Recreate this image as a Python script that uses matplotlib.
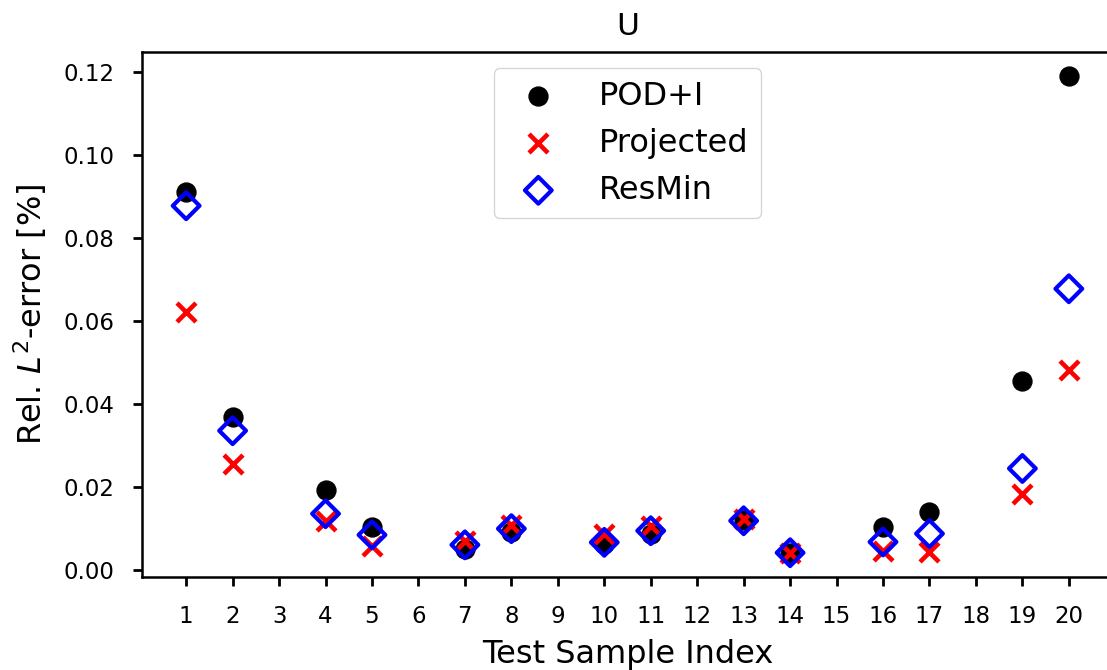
import numpy as np
import matplotlib
matplotlib.use("Agg")
import matplotlib.pyplot as plt

# test sample indices that have data (3, 6, 9, 12, 15, 18 are training samples)
samples = [1, 2, 4, 5, 7, 8, 10, 11, 13, 14, 16, 17, 19, 20]
all_ticks = list(range(1, 21))

pod_i = [0.0911, 0.0369, 0.0193, 0.0104, 0.0050, 0.0090, 0.0062, 0.0087,
         0.0120, 0.0040, 0.0104, 0.0138, 0.0455, 0.1190]
projected = [0.0622, 0.0255, 0.0118, 0.0058, 0.0070, 0.0108, 0.0087, 0.0106,
             0.0122, 0.0040, 0.0046, 0.0042, 0.0183, 0.0482]
resmin = [0.0877, 0.0335, 0.0135, 0.0084, 0.0060, 0.0099, 0.0066, 0.0094,
          0.0118, 0.0041, 0.0067, 0.0087, 0.0244, 0.0677]


def main():
    fig = plt.figure(figsize=(11.07, 6.70), dpi=100)
    ax = fig.add_axes([0.1283, 0.1388, 0.8771, 0.7836])

    ax.scatter(samples, pod_i, s=185, marker="o", color="black", label="POD+I")
    ax.scatter(samples, projected, s=185, marker="x", color="red",
               linewidths=3.3, label="Projected")
    ax.scatter(samples, resmin, s=185, marker="D", facecolors="none",
               edgecolors="blue", linewidths=3, label="ResMin")

    ax.set_xticks(all_ticks)
    ax.tick_params(axis="both", labelsize=16.5, width=2, length=6.5, pad=13.5)
    for spine in ax.spines.values():
        spine.set_linewidth(1.8)

    ax.set_title("U", fontsize=22.5, pad=12)
    ax.set_xlabel("Test Sample Index", fontsize=23, labelpad=8)
    ax.set_ylabel("Rel. $L^2$-error [%]", fontsize=23, labelpad=10)
    ax.legend(loc="upper center", fontsize=23, scatterpoints=1,
              borderpad=0.4, labelspacing=0.5, handletextpad=0.9)

    fig.savefig("out.png", dpi=100)


if __name__ == "__main__":
    main()
